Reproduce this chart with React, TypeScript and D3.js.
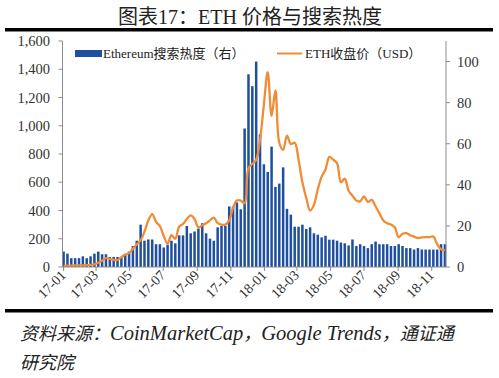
import React from "react";
import * as d3 from "d3";

const W = 499;
const H = 378;

const startWeek = new Date(2017, 0, 1);
const endWeek = new Date(2018, 10, 26);

// Google Trends search heat (right axis), weekly from 2017-01-01
const searchHeat = [
  7.5, 6.5, 4.3, 4.3, 4.3, 5.2, 4.3, 5.2, 6.5, 7.5,
  6.2, 6.2, 4.9, 4.9, 4.9, 4.9, 6.2, 7.5, 10.2, 12.8,
  20.6, 12.8, 13.4, 13.4, 11.1, 11.1, 9.5, 10.8, 12.8, 11.5,
  15.4, 15.4, 20, 16.4, 17.3, 18.7, 21.3, 16.4, 13.8, 12.8,
  19.3, 20, 20, 29.5, 29.5, 31.4, 28.1, 67.4, 93.8, 88,
  100, 64.5, 50, 46.3, 58.6, 39, 40.6, 48.5, 28.3, 25.5,
  19.6, 19.6, 20.6, 18.5, 19.3, 16.4, 15.7, 14.4, 15.2, 13.3,
  13.3, 12.8, 11.9, 11.5, 10.5, 13.4, 10.2, 11.1, 10.2, 9.2,
  11.1, 12.4, 11.1, 11.1, 11.1, 10.2, 10.2, 11.1, 10.2, 9.2,
  9.2, 8.5, 9.2, 8.5, 8.5, 8.5, 8.5, 8.5, 11.1, 11.1,
];

// ETH close price in USD (left axis), weekly from 2017-01-01
const ethPrice = [
  8, 10, 10, 11, 11, 12, 13, 15, 19, 30,
  45, 62, 58, 50, 50, 70, 88, 98, 130, 160,
  190, 250, 330, 375, 320, 290, 220, 165, 225, 200,
  285, 305, 340, 365, 340, 280, 295, 310, 330, 350,
  310, 300, 300, 330, 420, 470, 470, 450, 700, 730,
  760, 900, 1150, 1380, 1070, 1250, 880, 830, 930, 870,
  880, 760, 600, 490, 400, 440, 550, 640, 690, 780,
  760, 735, 600, 625, 540, 505, 470, 465, 500, 460,
  475, 430, 380, 330, 310, 300, 280, 210, 235, 240,
  225, 215, 205, 210, 212, 212, 215, 160, 125, 120,
];

const leftTicks = [0, 200, 400, 600, 800, 1000, 1200, 1400, 1600];
const rightTicks = [0, 20, 40, 60, 80, 100];
const xTickLabels = ["17-01", "17-03", "17-05", "17-07", "17-09", "17-11", "18-01", "18-03", "18-05", "18-07", "18-09", "18-11"];

const title = "图表17：ETH 价格与搜索热度";
const legendBar = "Ethereum搜索热度（右）";
const legendLine = "ETH收盘价（USD）";

const BLUE = "#1f4f9f";
const ORANGE = "#ef8c35";
const SERIF = "'Liberation Serif', 'Noto Sans CJK SC', serif";

export default function App() {
  const weeks = d3.timeWeek.range(startWeek, endWeek);
  const plotLeft = 62.5;
  const plotRight = 446;
  const plotTop = 41;
  const plotBottom = 267;

  const x = d3
    .scaleTime()
    .domain([d3.timeDay.offset(startWeek, -1.5), d3.timeDay.offset(weeks[weeks.length - 1], 2)])
    .range([plotLeft, plotRight]);
  const yL = d3.scaleLinear().domain([0, 1600]).range([plotBottom, plotTop]);
  const yR = d3.scaleLinear().domain([0, 110]).range([plotBottom, plotTop]);

  const tickDates = xTickLabels.map((s) => {
    const [yy, mm] = s.split("-").map(Number);
    return new Date(2000 + yy, mm - 1, 1);
  });

  const line = d3
    .line<number>()
    .x((_, i) => x(weeks[i]))
    .y((d) => yL(d))
    .curve(d3.curveCatmullRom.alpha(0.5));

  const barW = 2.5;

  return (
    <svg
      width={W}
      height={H}
      viewBox={`0 0 ${W} ${H}`}
      style={{ position: "absolute", left: 0, top: 0, background: "#fff" }}
      fontFamily={SERIF}
    >
      <rect x={0} y={0} width={W} height={H} fill="#fff" />
      <text x={250} y={24} textAnchor="middle" fontSize={20} fill="#222">
        {title}
      </text>
      <rect x={5} y={28} width={488} height={3.5} fill="#000" />

      {/* bars */}
      {searchHeat.map((v, i) => (
        <rect
          key={i}
          x={x(weeks[i]) - barW / 2}
          y={yR(v)}
          width={barW}
          height={yR(0) - yR(v)}
          fill={BLUE}
        />
      ))}

      {/* price line */}
      <path d={line(ethPrice) || ""} fill="none" stroke={ORANGE} strokeWidth={2.3} strokeLinejoin="round" />

      {/* axes */}
      <line x1={plotLeft} x2={plotLeft} y1={plotTop} y2={plotBottom} stroke="#8c8c8c" strokeWidth={1} />
      <line x1={plotRight} x2={plotRight} y1={plotTop} y2={plotBottom} stroke="#8c8c8c" strokeWidth={1} />
      <line x1={plotLeft} x2={plotRight} y1={plotBottom} y2={plotBottom} stroke="#8c8c8c" strokeWidth={1} />

      {leftTicks.map((t) => (
        <g key={"l" + t}>
          <line x1={plotLeft - 4} x2={plotLeft} y1={yL(t)} y2={yL(t)} stroke="#8c8c8c" />
          <text x={50} y={yL(t)} dy="0.35em" textAnchor="end" fontSize={14.5} fill="#333">
            {d3.format(",")(t)}
          </text>
        </g>
      ))}
      {rightTicks.map((t) => (
        <g key={"r" + t}>
          <line x1={plotRight} x2={plotRight + 4} y1={yR(t)} y2={yR(t)} stroke="#8c8c8c" />
          <text x={457} y={yR(t)} dy="0.35em" textAnchor="start" fontSize={14.5} fill="#333">
            {t}
          </text>
        </g>
      ))}
      {tickDates.map((d, i) => (
        <g key={"x" + i}>
          <line x1={x(d)} x2={x(d)} y1={plotBottom} y2={plotBottom + 4} stroke="#8c8c8c" />
          <text
            transform={`translate(${x(d) + 3},${plotBottom + 9}) rotate(-45)`}
            textAnchor="end"
            fontSize={14}
            fill="#333"
          >
            {xTickLabels[i]}
          </text>
        </g>
      ))}

      {/* legend */}
      <rect x={75} y={50} width={27} height={7} fill={BLUE} />
      <text x={103} y={58} fontSize={13} fill="#222">
        {legendBar}
      </text>
      <line x1={277} x2={302} y1={53.5} y2={53.5} stroke={ORANGE} strokeWidth={2} />
      <text x={305} y={58} fontSize={13} fill="#222">
        {legendLine}
      </text>

      <rect x={5} y={309} width={488} height={3.5} fill="#000" />
      <text x={20} y={340} fontSize={18} fontStyle="italic" fill="#222">
        资料来源：<tspan fontSize={20.5}>CoinMarketCap</tspan>，<tspan fontSize={20.5}>Google Trends</tspan>，通证通
      </text>
      <text x={20} y={369} fontSize={18} fontStyle="italic" fill="#222">
        研究院
      </text>
    </svg>
  );
}
